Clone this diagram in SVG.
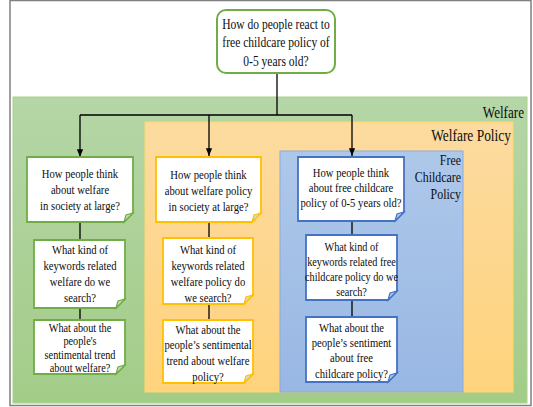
<svg xmlns="http://www.w3.org/2000/svg" width="533" height="407" viewBox="0 0 533 407">
<style>
.n{font-size:13px;text-anchor:middle;fill:#0d0d0d}
.s{font-size:12.5px;text-anchor:middle;fill:#0d0d0d}
.lbl{text-anchor:end;fill:#0d0d0d}
.box{fill:#fff;stroke-width:1.8}
.g{stroke:#70ad47}.y{stroke:#ffc000}.b{stroke:#4472c4}
.fold{stroke-width:1.2}
.c{fill:none;stroke:#000;stroke-width:1.3}
</style>
<defs>
<linearGradient id="gg" x1="0" y1="0" x2="0" y2="1"><stop offset="0" stop-color="#b5d6a7"/><stop offset="1" stop-color="#a3cc88"/></linearGradient>
<linearGradient id="og" x1="0" y1="0" x2="0" y2="1"><stop offset="0" stop-color="#fcdba0"/><stop offset="1" stop-color="#ffd37d"/></linearGradient>
<linearGradient id="bg" x1="0" y1="0" x2="0" y2="1"><stop offset="0" stop-color="#aec8ea"/><stop offset="1" stop-color="#98b7e3"/></linearGradient>
<marker id="ah" viewBox="0 0 10 10" refX="10" refY="5" markerWidth="6" markerHeight="6" orient="auto"><path d="M0,1 L10,5 L0,9 Z" fill="#000"/></marker>
</defs>
<rect x="10" y="0.5" width="521" height="405" fill="#fff" stroke="#808080" stroke-width="1.5"/>
<g id="region-welfare">
<rect x="13" y="97" width="514" height="306" fill="url(#gg)" stroke="#a9d18e" stroke-width="1"/>
<text class="lbl" font-family="Liberation Serif" transform="translate(524,118) scale(0.82,1)" font-size="16">Welfare</text>
</g>
<g id="region-welfare-policy">
<rect x="145" y="122" width="368" height="270" fill="url(#og)" stroke="#ffd966" stroke-width="1"/>
<text class="lbl" font-family="Liberation Serif" transform="translate(511,141) scale(0.84,1)" font-size="16">Welfare Policy</text>
</g>
<g id="region-free-childcare">
<rect x="280" y="151" width="183" height="241" fill="url(#bg)" stroke="#8eaadb" stroke-width="1"/>
<text class="lbl" font-family="Liberation Serif" font-size="14" transform="translate(461,0) scale(0.85,1)"><tspan x="0" y="165">Free</tspan><tspan x="0" y="182">Childcare</tspan><tspan x="0" y="199">Policy</tspan></text>
</g>
<g id="connectors">
<path class="c" d="M277,73 V115"/>
<path class="c" d="M80,115 H352"/>
<path class="c" d="M80,115 V157" marker-end="url(#ah)"/>
<path class="c" d="M209,115 V156" marker-end="url(#ah)"/>
<path class="c" d="M352,115 V156" marker-end="url(#ah)"/>
<path class="c" d="M80,222 V240 M80,308 V320"/>
<path class="c" d="M209,222 V238 M209,304 V320"/>
<path class="c" d="M352,221 V235 M352,300 V317"/>
</g>
<g id="top">
<rect x="217" y="10" width="118" height="63" rx="9" fill="#fff" stroke="#70ad47" stroke-width="2"/>
<text class="n" font-family="Liberation Serif" transform="translate(276,0) scale(0.77,1)" style="font-size:15px"><tspan x="0" y="29">How do people react to</tspan><tspan x="0" y="47.5">free childcare policy of</tspan><tspan x="0" y="66">0-5 years old?</tspan></text>
</g>
<g id="w1">
<path class="box g" d="M27,157 H133 V213 L124,222 H27 Z"/>
<path class="fold g" fill="#c5deb5" d="M124,222 L126,215 L133,213 Z"/>
<text class="n" font-family="Liberation Serif" transform="translate(80,0) scale(0.82,1)"><tspan x="0" y="178">How people think</tspan><tspan x="0" y="194">about welfare</tspan><tspan x="0" y="210">in society at large?</tspan></text>
</g>
<g id="w2">
<path class="box g" d="M34,240 H125 V299 L116,308 H34 Z"/>
<path class="fold g" fill="#c5deb5" d="M116,308 L118,301 L125,299 Z"/>
<text class="n" font-family="Liberation Serif" transform="translate(80,0) scale(0.82,1)"><tspan x="0" y="254">What kind of</tspan><tspan x="0" y="270">keywords related</tspan><tspan x="0" y="286">welfare do we</tspan><tspan x="0" y="302">search?</tspan></text>
</g>
<g id="w3">
<path class="box g" d="M34,320 H125 V365 L116,374 H34 Z"/>
<path class="fold g" fill="#c5deb5" d="M116,374 L118,367 L125,365 Z"/>
<text class="n" font-family="Liberation Serif" transform="translate(80,0) scale(0.82,1)" style="font-size:12.5px"><tspan x="0" y="332">What about the</tspan><tspan x="0" y="345.5">people's</tspan><tspan x="0" y="359">sentimental trend</tspan><tspan x="0" y="372.5">about welfare?</tspan></text>
</g>
<g id="p1">
<path class="box y" d="M156,157 H261 V213 L252,222 H156 Z"/>
<path class="fold y" fill="#d9d9d9" d="M252,222 L254,215 L261,213 Z"/>
<text class="n" font-family="Liberation Serif" transform="translate(208.5,0) scale(0.82,1)"><tspan x="0" y="179">How people think</tspan><tspan x="0" y="195">about  welfare policy</tspan><tspan x="0" y="211">in society at large?</tspan></text>
</g>
<g id="p2">
<path class="box y" d="M163,238 H253 V295 L244,304 H163 Z"/>
<path class="fold y" fill="#d9d9d9" d="M244,304 L246,297 L253,295 Z"/>
<text class="n" font-family="Liberation Serif" transform="translate(208,0) scale(0.82,1)"><tspan x="0" y="254">What kind of</tspan><tspan x="0" y="270">keywords related</tspan><tspan x="0" y="286">welfare policy do</tspan><tspan x="0" y="302">we search?</tspan></text>
</g>
<g id="p3">
<path class="box y" d="M163,320 H253 V374 L244,383 H163 Z"/>
<path class="fold y" fill="#d9d9d9" d="M244,383 L246,376 L253,374 Z"/>
<text class="n" font-family="Liberation Serif" transform="translate(208,0) scale(0.82,1)"><tspan x="0" y="334">What about the</tspan><tspan x="0" y="349">people’s sentimental</tspan><tspan x="0" y="365">trend about welfare</tspan><tspan x="0" y="381">policy?</tspan></text>
</g>
<g id="f1">
<path class="box b" d="M298,157 H404 V212 L395,221 H298 Z"/>
<path class="fold b" fill="#b4c7e7" d="M395,221 L397,214 L404,212 Z"/>
<text class="n" font-family="Liberation Serif" transform="translate(351,0) scale(0.82,1)"><tspan x="0" y="177">How people think</tspan><tspan x="0" y="192">about free childcare</tspan><tspan x="0" y="207">policy of 0-5 years old?</tspan></text>
</g>
<g id="f2">
<path class="box b" d="M306,235 H397 V291 L388,300 H306 Z"/>
<path class="fold b" fill="#b4c7e7" d="M388,300 L390,293 L397,291 Z"/>
<text class="s" font-family="Liberation Serif" transform="translate(351.5,0) scale(0.82,1)"><tspan x="0" y="251">What kind of</tspan><tspan x="0" y="266">keywords related free</tspan><tspan x="0" y="281">childcare policy do we</tspan><tspan x="0" y="296">search?</tspan></text>
</g>
<g id="f3">
<path class="box b" d="M306,317 H397 V373 L388,382 H306 Z"/>
<path class="fold b" fill="#b4c7e7" d="M388,382 L390,375 L397,373 Z"/>
<text class="n" font-family="Liberation Serif" transform="translate(351.5,0) scale(0.82,1)"><tspan x="0" y="332">What about the</tspan><tspan x="0" y="347">people’s sentiment</tspan><tspan x="0" y="362">about  free</tspan><tspan x="0" y="378">childcare policy?</tspan></text>
</g>
</svg>
